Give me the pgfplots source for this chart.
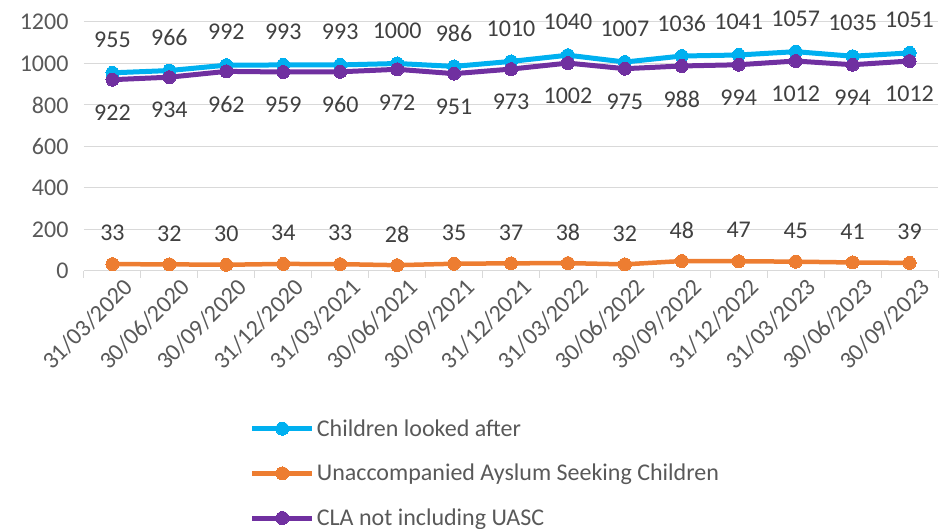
\documentclass[border=0pt]{standalone}
\usepackage{fontspec}
\setmainfont{Carlito}
\usepackage{pgfplots}
\pgfplotsset{compat=1.18}
\definecolor{cblue}{HTML}{00B0F0}
\definecolor{corange}{HTML}{ED7D31}
\definecolor{cpurple}{HTML}{7030A0}
\definecolor{cgrid}{HTML}{D9D9D9}
\definecolor{ctext}{HTML}{595959}
\definecolor{clabel}{HTML}{404040}
\pgfkeys{/pgf/number format/assume math mode=true}
\begin{document}
\begin{tikzpicture}
\path[use as bounding box] (0,0) rectangle (940pt,529pt);
\begin{axis}[
  at={(84pt,258pt)}, anchor=south west,
  scale only axis, width=854pt, height=249pt,
  xmin=-0.5, xmax=14.5, ymin=0, ymax=1200,
  ytick={0,200,...,1200},
  xtick={0,...,14},
  xticklabels={31/03/2020,30/06/2020,30/09/2020,31/12/2020,31/03/2021,30/06/2021,30/09/2021,31/12/2021,31/03/2022,30/06/2022,30/09/2022,31/12/2022,31/03/2023,30/06/2023,30/09/2023},
  minor xtick={-0.5,0.5,...,14.5},
  major tick length=0pt,
  minor tick length=7pt,
  tick align=outside,
  axis x line*=bottom, axis y line*=left,
  x axis line style={draw=cgrid, line width=1pt, -},
  y axis line style={draw=none},
  minor tick style={draw=cgrid, line width=1pt},
  ymajorgrids, grid style={draw=cgrid, line width=1pt},
  tick label style={font=\fontsize{24}{28}\selectfont, text=ctext},
  yticklabel style={xshift=-12pt},
  xticklabel style={rotate=45, anchor=north east, inner sep=1pt, yshift=-10pt, xshift=4pt},
  /pgf/number format/1000 sep={},
  clip=false,
  legend style={at={(axis description cs:0.194,-0.588)}, anchor=north west, draw=none, fill=none,
     font=\fontsize{24}{28}\selectfont, text=ctext, row sep=22.5pt, inner sep=0pt,
     nodes={inner sep=2pt}},
  legend cell align=left,
  legend image code/.code={\draw[#1, mark repeat=2, mark phase=2] plot coordinates {(0pt,0pt) (30pt,0pt) (60pt,0pt)};},
  every node near coord/.append style={font=\fontsize{24}{28}\selectfont, text=clabel, anchor=center},
]
\addplot[cblue, line width=5pt, mark=*, mark size=6.5pt, mark options={line width=0pt}, nodes near coords, every node near coord/.append style={yshift=33pt}]
  coordinates {(0,955)(1,966)(2,992)(3,993)(4,993)(5,1000)(6,986)(7,1010)(8,1040)(9,1007)(10,1036)(11,1041)(12,1057)(13,1035)(14,1051)};
\addlegendentry{Children looked after}
\addplot[corange, line width=4.5pt, mark=*, mark size=6.5pt, mark options={line width=0pt}, nodes near coords, every node near coord/.append style={yshift=31pt}]
  coordinates {(0,33)(1,32)(2,30)(3,34)(4,33)(5,28)(6,35)(7,37)(8,38)(9,32)(10,48)(11,47)(12,45)(13,41)(14,39)};
\addlegendentry{Unaccompanied Ayslum Seeking Children}
\addplot[cpurple, line width=5pt, mark=*, mark size=6.5pt, mark options={line width=0pt}, nodes near coords, every node near coord/.append style={yshift=-33pt}]
  coordinates {(0,922)(1,934)(2,962)(3,959)(4,960)(5,972)(6,951)(7,973)(8,1002)(9,975)(10,988)(11,994)(12,1012)(13,994)(14,1012)};
\addlegendentry{CLA not including UASC}
\end{axis}
\end{tikzpicture}
\end{document}
